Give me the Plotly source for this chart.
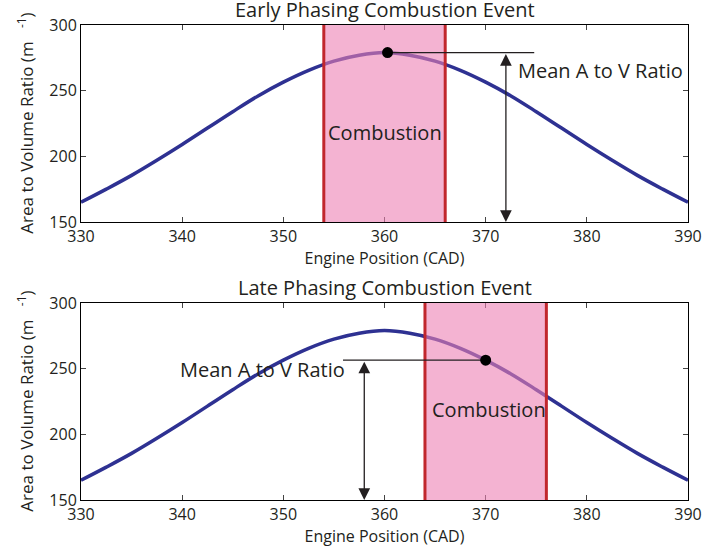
import plotly.graph_objects as go
from plotly.subplots import make_subplots

# Area-to-volume ratio over the crank window
cad = [330, 332.5, 335, 337.5, 340, 342.5, 345, 347.5, 350, 352.5, 355, 357.5, 360,
       362.5, 365, 367.5, 370, 372.5, 375, 377.5, 380, 382.5, 385, 387.5, 390]
av_ratio = [165, 175, 185.5, 197, 209, 221.5, 234, 246, 256.5, 265.5, 272.5, 277, 279,
            277, 272.5, 265.5, 256.5, 246, 234, 221.5, 209, 197, 185.5, 175, 165]

titles = ["Early Phasing Combustion Event", "Late Phasing Combustion Event"]
burn_start = [354, 364]
burn_end = [366, 376]
mean_cad = [360.3, 370]
mean_av = [279, 256.5]
arrow_cad = [372, 358]
hline_end = [374.8, 355.9]
label_pos = [(373.0, 265.5, "left"), (356.3, 249.5, "right")]
combustion_label = [(360, 218.5), (370.3, 219)]

x_ticks = [330, 340, 350, 360, 370, 380, 390]
y_ticks = [150, 200, 250, 300]

FONT = "Open Sans"
INK = "#231f20"
BLUE = "#2e3192"
RED = "#c1272d"

fig = make_subplots(rows=2, cols=1, vertical_spacing=0.1706)
fig.update_layout(
    width=703, height=554,
    margin=dict(l=81, r=15, t=25, b=54, autoexpand=False),
    plot_bgcolor="white", paper_bgcolor="white",
    showlegend=False,
    font=dict(family=FONT, size=16, color=INK),
)

for i in range(2):
    r = i + 1
    xa = "x" if i == 0 else "x2"
    ya = "y" if i == 0 else "y2"
    fig.add_trace(go.Scatter(x=cad, y=av_ratio, mode="lines", line_shape="spline",
                             line=dict(color=BLUE, width=3.5)), row=r, col=1)
    # translucent combustion window
    fig.add_shape(type="rect", xref=xa, yref=ya, x0=burn_start[i], x1=burn_end[i],
                  y0=150, y1=300, fillcolor="rgb(236,128,180)", opacity=0.6,
                  line=dict(width=0), layer="above")
    for xv in (burn_start[i], burn_end[i]):
        fig.add_shape(type="line", xref=xa, yref=ya, x0=xv, x1=xv, y0=150, y1=300,
                      line=dict(color=RED, width=3), layer="above")
    # leader line from mean point
    fig.add_shape(type="line", xref=xa, yref=ya, x0=mean_cad[i], x1=hline_end[i],
                  y0=mean_av[i], y1=mean_av[i], line=dict(color=INK, width=1.3),
                  layer="above")
    # mean point, anchored in data space, drawn over the window
    fig.add_shape(type="circle", xref=xa, yref=ya, xsizemode="pixel", ysizemode="pixel",
                  xanchor=mean_cad[i], yanchor=mean_av[i], x0=-5.5, x1=5.5, y0=-5.5, y1=5.5,
                  fillcolor="black", line=dict(width=0), layer="above")
    # double-headed arrow
    fig.add_annotation(xref=xa, yref=ya, axref=xa, ayref=ya,
                       x=arrow_cad[i], y=150, ax=arrow_cad[i], ay=mean_av[i],
                       text="", showarrow=True, arrowhead=2, arrowside="end+start",
                       arrowsize=1.8, arrowwidth=1.3, arrowcolor=INK,
                       standoff=0, startstandoff=0)
    lx, ly, anchor = label_pos[i]
    fig.add_annotation(xref=xa, yref=ya, x=lx, y=ly, text="Mean A to V Ratio",
                       showarrow=False, xanchor=anchor, yanchor="middle",
                       font=dict(size=20, color=INK))
    cx, cy = combustion_label[i]
    fig.add_annotation(xref=xa, yref=ya, x=cx, y=cy, text="Combustion",
                       showarrow=False, xanchor="center", yanchor="middle",
                       font=dict(size=20, color=INK))

    fig.update_xaxes(range=[330, 390], tickvals=x_ticks, ticks="inside", ticklen=5,
                     showline=True, linecolor="black", linewidth=1, mirror="ticks",
                     showgrid=False, zeroline=False, tickfont=dict(size=16),
                     automargin=False,
                     title=dict(text="Engine Position (CAD)", font=dict(size=16), standoff=2),
                     row=r, col=1)
    fig.update_yaxes(range=[150, 300], tickvals=y_ticks, ticks="inside", ticklen=5,
                     showline=True, linecolor="black", linewidth=1, mirror="ticks",
                     showgrid=False, zeroline=False, tickfont=dict(size=16),
                     automargin=False, row=r, col=1)

# panel titles and rotated y-axis labels
panel_top = [1.0, 0.4147]
ylabel_bottom = [0.5558, -0.0295]
for i in range(2):
    fig.add_annotation(xref="paper", yref="paper", x=0.5, y=panel_top[i], yshift=0,
                       text=titles[i], showarrow=False, xanchor="center", yanchor="bottom",
                       font=dict(size=20, color=INK))
    fig.add_annotation(xref="paper", yref="paper", x=-0.092, y=ylabel_bottom[i],
                       text="Area to Volume Ratio (m&nbsp;&nbsp;&nbsp;<sup>-1</sup>)",
                       textangle=-90, showarrow=False, xanchor="center", yanchor="bottom",
                       font=dict(size=17, color=INK))

fig.write_html("out.html")
